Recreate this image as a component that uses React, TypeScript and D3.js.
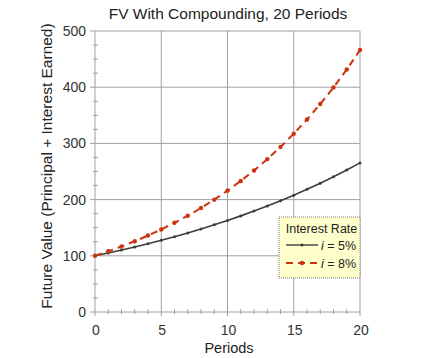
import React from "react";
import * as d3 from "d3";

const periods = [0,1,2,3,4,5,6,7,8,9,10,11,12,13,14,15,16,17,18,19,20];
const fv5 = [100,105,110.25,115.76,121.55,127.63,134.01,140.71,147.75,155.13,162.89,171.03,179.59,188.56,197.99,207.89,218.29,229.2,240.66,252.7,265.33];
const fv8 = [100,108,116.64,125.97,136.05,146.93,158.69,171.38,185.09,199.9,215.89,233.16,251.82,271.96,293.72,317.22,342.59,370,399.6,431.57,466.1];
const xTicks = [0,5,10,15,20];
const yTicks = [0,100,200,300,400,500];

const W = 435, H = 358;
const FONT = "'Liberation Sans', Arial, sans-serif";

export default function App() {
  const x = d3.scaleLinear().domain([0, 20]).range([95, 360]);
  const y = d3.scaleLinear().domain([0, 500]).range([312, 31]);
  const line = d3.line<number>().x((_, i) => x(periods[i])).y(d => y(d));
  const grid = "#a0a0a0";
  const minorY = d3.range(0, 501, 25).filter(v => v % 100 !== 0);
  const minorX = d3.range(0, 21, 1).filter(v => v % 5 !== 0);
  const c5 = "#3a3f3c";
  const c8 = "#cc3311";
  return (
    <svg width={W} height={H} style={{ position: "absolute", left: 0, top: 0, background: "#fff" }} fontFamily={FONT}>
      <rect width={W} height={H} fill="#fff" />
      {yTicks.map(t => (
        <line key={"gy" + t} x1={x(0)} x2={x(20)} y1={y(t)} y2={y(t)} stroke={grid} strokeWidth={1} />
      ))}
      {xTicks.map(t => (
        <line key={"gx" + t} x1={x(t)} x2={x(t)} y1={y(0)} y2={y(500)} stroke={grid} strokeWidth={1} />
      ))}
      {yTicks.map(t => (
        <line key={"ty" + t} x1={x(0) - 5} x2={x(0)} y1={y(t)} y2={y(t)} stroke={grid} />
      ))}
      {minorY.map(t => (
        <line key={"my" + t} x1={x(0) - 2} x2={x(0) + 3} y1={y(t)} y2={y(t)} stroke={grid} />
      ))}
      {minorX.map(t => (
        <line key={"mx" + t} x1={x(t)} x2={x(t)} y1={y(0) - 3} y2={y(0) + 2} stroke={grid} />
      ))}
      {xTicks.map(t => (
        <line key={"tx" + t} x1={x(t)} x2={x(t)} y1={y(0)} y2={y(0) + 4} stroke={grid} />
      ))}
      {yTicks.map(t => (
        <text key={"ly" + t} x={x(0) - 9} y={y(t) + 5} textAnchor="end" fontSize={14} fill="#333">{t}</text>
      ))}
      {xTicks.map(t => (
        <text key={"lx" + t} x={x(t) + 1} y={y(0) + 23} textAnchor="middle" fontSize={14} fill="#333">{t}</text>
      ))}
      <path d={line(fv5) || ""} fill="none" stroke={c5} strokeWidth={1.6} />
      {fv5.map((v, i) => (
        <circle key={"p5" + i} cx={x(periods[i])} cy={y(v)} r={1.5} fill={c5} />
      ))}
      <path d={line(fv8) || ""} fill="none" stroke={c8} strokeWidth={2} strokeDasharray="7,5" />
      {fv8.map((v, i) => (
        <circle key={"p8" + i} cx={x(periods[i])} cy={y(v)} r={2.2} fill={c8} />
      ))}
      <text x={228} y={19} textAnchor="middle" fontSize={15.5} fill="#222">FV With Compounding, 20 Periods</text>
      <text x={229} y={353} textAnchor="middle" fontSize={14.5} fill="#222">Periods</text>
      <text transform={`translate(52,166) rotate(-90)`} textAnchor="middle" fontSize={15.5} fill="#222">Future Value (Principal + Interest Earned)</text>
      <rect x={279} y={217} width={81} height={61} fill="#ffffcc" stroke="#777" strokeWidth={1} strokeDasharray="1,1" />
      <text x={321.5} y={233} textAnchor="middle" fontSize={12.5} fill="#222">Interest Rate</text>
      <line x1={286} x2={318} y1={245} y2={245} stroke={c5} strokeWidth={1.4} />
      <circle cx={302} cy={245} r={1.5} fill={c5} />
      <text x={321} y={249.5} fontSize={12.5} fill="#222"><tspan fontStyle="italic">i</tspan> = 5%</text>
      <line x1={286} x2={318} y1={263} y2={263} stroke={c8} strokeWidth={2} strokeDasharray="7,5" />
      <circle cx={302} cy={263} r={2.2} fill={c8} />
      <text x={321} y={267.5} fontSize={12.5} fill="#222"><tspan fontStyle="italic">i</tspan> = 8%</text>
    </svg>
  );
}
